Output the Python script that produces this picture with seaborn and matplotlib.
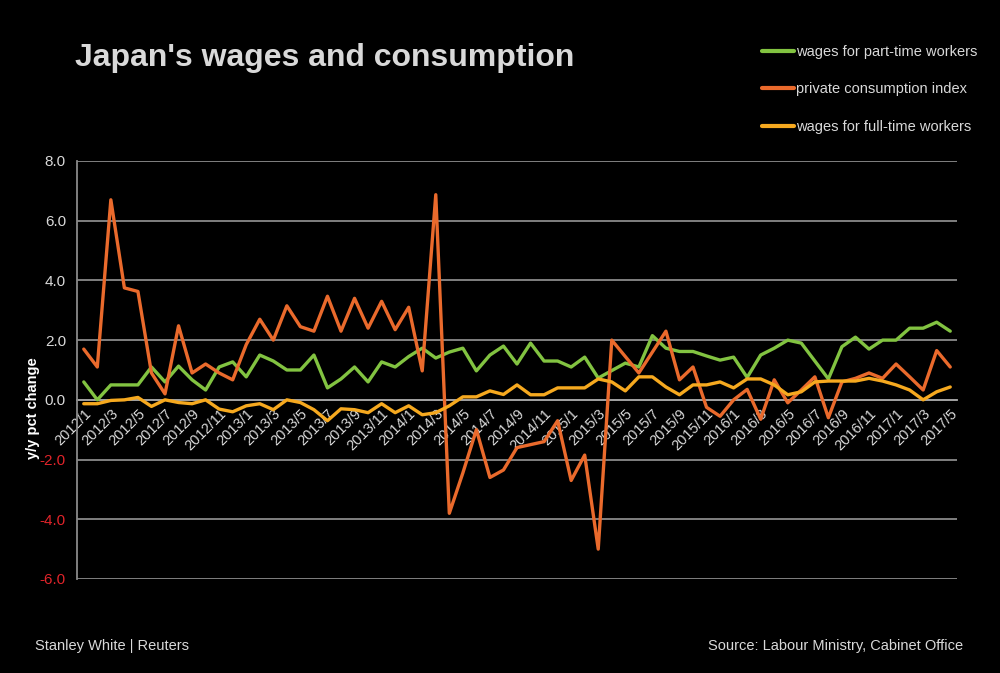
import numpy as np
import pandas as pd
import matplotlib
matplotlib.use("Agg")
import matplotlib.pyplot as plt
import seaborn as sns
from matplotlib.lines import Line2D

# ---------------- data ----------------
months = [f"{y}/{m}" for y in range(2012, 2018) for m in range(1, 13)][:65]

part_time = [0.6, 0.0, 0.5, 0.5, 0.5, 1.1, 0.6, 1.13, 0.67, 0.33,
             1.1, 1.27, 0.77, 1.5, 1.3, 1.0, 1.0, 1.5, 0.4, 0.7,
             1.1, 0.6, 1.27, 1.1, 1.45, 1.73, 1.4, 1.6, 1.73, 0.97,
             1.5, 1.8, 1.2, 1.9, 1.3, 1.3, 1.1, 1.43, 0.73, 0.98,
             1.23, 1.1, 2.15, 1.73, 1.62, 1.62, 1.47, 1.33, 1.43, 0.75,
             1.5, 1.73, 2.0, 1.9, 1.3, 0.7, 1.78, 2.1, 1.7, 2.0,
             2.0, 2.4, 2.4, 2.6, 2.3]

consumption = [1.7, 1.1, 6.7, 3.75, 3.63, 0.9, 0.2, 2.48, 0.9, 1.2,
               0.9, 0.67, 1.85, 2.7, 2.0, 3.15, 2.45, 2.3, 3.47, 2.3,
               3.4, 2.4, 3.3, 2.35, 3.1, 0.97, 6.87, -3.8, -2.45, -1.0,
               -2.6, -2.35, -1.6, -1.5, -1.4, -0.7, -2.7, -1.85, -5.0, 2.0,
               1.45, 0.9, 1.6, 2.3, 0.67, 1.1, -0.25, -0.55, 0.0, 0.35,
               -0.65, 0.67, -0.1, 0.33, 0.77, -0.6, 0.6, 0.72, 0.9, 0.72,
               1.2, 0.77, 0.33, 1.65, 1.1]

full_time = [-0.13, -0.13, -0.02, 0.0, 0.08, -0.22, 0.0, -0.09, -0.13, 0.0,
             -0.31, -0.4, -0.2, -0.13, -0.33, 0.0, -0.09, -0.33, -0.7, -0.3,
             -0.33, -0.43, -0.13, -0.43, -0.2, -0.5, -0.43, -0.2, 0.1, 0.1,
             0.3, 0.18, 0.5, 0.17, 0.17, 0.4, 0.4, 0.4, 0.7, 0.6,
             0.3, 0.77, 0.77, 0.43, 0.17, 0.5, 0.5, 0.6, 0.4, 0.7,
             0.7, 0.5, 0.17, 0.27, 0.6, 0.63, 0.63, 0.63, 0.72, 0.63,
             0.5, 0.33, 0.0, 0.27, 0.43]

series_names = ["wages for part-time workers", "private consumption index",
                "wages for full-time workers"]
series_colors = ["#82c341", "#ea6a2c", "#f6a91f"]
y_ticks = [-6, -4, -2, 0, 2, 4, 6, 8]

# ---------------- frame ----------------
idx = np.arange(len(months))
df = pd.concat([
    pd.DataFrame({"i": idx, "value": vals, "series": name})
    for name, vals in zip(series_names, [part_time, consumption, full_time])
])

sns.set_theme(style="dark")
plt.rcParams["font.family"] = ["Liberation Sans", "DejaVu Sans"]

BG = "black"
TXT = "#d9d9d9"
GRID = "#8a8a8a"

fig = plt.figure(figsize=(10, 6.73), dpi=100, facecolor=BG)
ax = fig.add_axes([0.077, 0.1397, 0.880, 0.6211])
ax.set_facecolor(BG)

for name, col in zip(series_names, series_colors):
    sns.lineplot(data=df[df["series"] == name], x="i", y="value", color=col,
                 linewidth=2.4, ax=ax, legend=False, zorder=3)

ax.set_xlim(-0.5, len(months) - 0.5)
ax.set_ylim(-6, 8)

# y axis
ax.set_yticks(y_ticks)
ax.set_yticklabels([f"{v:.1f}" for v in y_ticks], fontsize=11)
for lab, v in zip(ax.get_yticklabels(), y_ticks):
    lab.set_color("#e0242a" if v < 0 else TXT)
ax.tick_params(axis="y", length=0, pad=8)
for v in y_ticks:
    if v != 0:
        ax.axhline(v, color=GRID, lw=1.3, zorder=1)
ax.grid(False)

# x axis at zero
ax.spines["bottom"].set_position(("data", 0))
ax.spines["bottom"].set_color("#b0b0b0")
ax.spines["bottom"].set_linewidth(1.3)
ax.spines["bottom"].set_zorder(2)
ax.spines["left"].set_color(GRID)
ax.spines["left"].set_linewidth(1.3)
ax.spines["top"].set_visible(False)
ax.spines["right"].set_visible(False)

ax.set_xticks(idx[::2])
ax.set_xticklabels(months[::2], rotation=45, ha="right",
                   rotation_mode="anchor", fontsize=10.5, color=TXT)
ax.set_xticks(np.arange(-0.5, len(months) + 0.5, 1), minor=True)
ax.tick_params(axis="x", which="major", length=0, pad=5)
ax.tick_params(axis="x", which="minor", length=5, width=1, color="#b0b0b0",
               direction="out")
ax.set_xlabel("")
ax.set_ylabel("")

# y label
fig.text(0.033, 0.394, "y/y pct change", rotation=90, ha="center",
         va="center", fontsize=10.5, fontweight="bold", color="white")

# title
fig.text(0.075, 0.914, "Japan's wages and consumption", fontsize=23,
         fontweight="bold", color=TXT, ha="left", va="center")

# legend
handles = [Line2D([0], [0], color=c, lw=3) for c in series_colors]
fig.legend(handles, series_names, loc="upper left",
           bbox_to_anchor=(0.762, 0.933), frameon=False, fontsize=10.5,
           labelcolor=TXT, handlelength=2.2, handletextpad=0.12,
           labelspacing=1.6, borderpad=0, borderaxespad=0)

# footer
fig.text(0.035, 0.04, "Stanley White | Reuters", fontsize=10.5, color=TXT,
         ha="left", va="center")
fig.text(0.963, 0.04, "Source: Labour Ministry, Cabinet Office",
         fontsize=10.5, color=TXT, ha="right", va="center")

fig.savefig("out.png", dpi=100, facecolor=BG)
